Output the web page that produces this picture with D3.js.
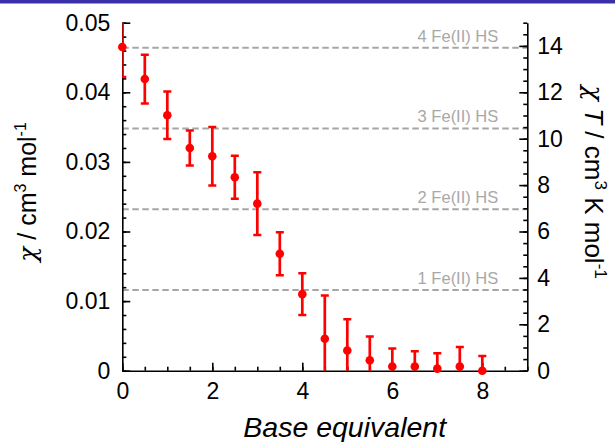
<!DOCTYPE html>
<html>
<head>
<meta charset="utf-8">
<script src="https://cdn.jsdelivr.net/npm/d3@7"></script>
<style>
  body { margin: 0; background: #fff; }
  svg { display: block; font-family: "Liberation Sans", Arial, Helvetica, sans-serif; }
</style>
</head>
<body>
<div id="chart"></div>
<script>
// base equivalents added
const baseEq = [0, 0.5, 1, 1.5, 2, 2.5, 3, 3.5, 4, 4.5, 5, 5.5, 6, 6.5, 7, 7.5, 8];
// chi / cm3 mol-1
const chi = [0.0465, 0.0419, 0.0367, 0.0320, 0.0308, 0.0278, 0.0240, 0.0168, 0.0110,
             0.0046, 0.0029, 0.0015, 0.0006, 0.0006, 0.0003, 0.0006, 0.0000];
const chiErr = [0.0043, 0.0035, 0.0034, 0.0025, 0.0042, 0.0031, 0.0045, 0.0031, 0.0030,
                0.0062, 0.0045, 0.0034, 0.0026, 0.0022, 0.0022, 0.0028, 0.0021];

// reference levels, chiT per high spin Fe(II)
const feCounts = [1, 2, 3, 4];
const chiTPerFe = 3.48;
const temperature = 300; // chiT = chi * T

const xTicks = [0, 2, 4, 6, 8];
const chiTicks = [0, 0.01, 0.02, 0.03, 0.04, 0.05];
const chiTicksLabels = ["0", "0.01", "0.02", "0.03", "0.04", "0.05"];
const chiTTicks = [0, 2, 4, 6, 8, 10, 12, 14];

const width = 615, height = 442;
const margin = { top: 22.7, right: 87.7, bottom: 71.3, left: 122.3 };
const w = width - margin.left - margin.right;
const h = height - margin.top - margin.bottom;

const svg = d3.select('#chart').append('svg')
    .attr('width', width)
    .attr('height', height);

// blue band at top of page
svg.append('rect')
    .attr('x', 0).attr('y', 0)
    .attr('width', width).attr('height', 3.5)
    .attr('fill', '#3a2fa6');

const g = svg.append('g')
    .attr('transform', `translate(${margin.left},${margin.top})`);

const x = d3.scaleLinear().domain([0, 9]).range([0, w]);
const y = d3.scaleLinear().domain([0, 0.05]).range([h, 0]);
const yT = d3.scaleLinear().domain([0, 0.05 * temperature]).range([h, 0]);

g.append('clipPath').attr('id', 'plot-clip')
    .append('rect').attr('width', w).attr('height', h);

// dashed reference lines
const levels = g.append('g').attr('class', 'levels');
levels.selectAll('line').data(feCounts)
    .join('line')
    .attr('x1', 0).attr('x2', w)
    .attr('y1', d => yT(d * chiTPerFe))
    .attr('y2', d => yT(d * chiTPerFe))
    .attr('stroke', '#a6a6a6')
    .attr('stroke-width', 2)
    .attr('stroke-dasharray', '6.5,3.5');
levels.selectAll('text').data(feCounts)
    .join('text')
    .attr('x', w - 29)
    .attr('y', d => yT(d * chiTPerFe) - 6)
    .attr('text-anchor', 'end')
    .attr('font-size', '16.5px')
    .attr('fill', '#a8a8a8')
    .text(d => d + ' Fe(II) HS');

// axes: minor ticks first, then majors with labels
const minorX = d3.range(0, 9.01, 0.5);
const minorChi = d3.range(0, 0.0501, 0.002);
const minorChiT = d3.range(0, 15.01, 0.5);

function styleAxis(sel) {
    sel.selectAll('path, line').attr('stroke', '#000').attr('stroke-width', 1.6);
    sel.selectAll('text').attr('fill', '#000').attr('font-size', '23px')
        .attr('font-family', '"Liberation Sans", Arial, Helvetica, sans-serif');
}

g.append('g').attr('transform', `translate(0,${h})`)
    .call(d3.axisBottom(x).tickValues(minorX).tickSize(-4).tickFormat(''))
    .call(s => s.select('.domain').remove()).call(styleAxis);
g.append('g').attr('transform', `translate(0,${h})`)
    .call(d3.axisBottom(x).tickValues(xTicks).tickSizeInner(-8).tickSizeOuter(0).tickPadding(12).tickFormat(d3.format('d')))
    .call(styleAxis);

g.append('g')
    .call(d3.axisLeft(y).tickValues(minorChi).tickSize(-4).tickFormat(''))
    .call(s => s.select('.domain').remove()).call(styleAxis);
g.append('g')
    .call(d3.axisLeft(y).tickValues(chiTicks).tickSizeInner(-8).tickSizeOuter(0).tickPadding(12)
        .tickFormat((d, i) => chiTicksLabels[i]))
    .call(styleAxis);

g.append('g').attr('transform', `translate(${w},0)`)
    .call(d3.axisRight(yT).tickValues(minorChiT).tickSize(-4).tickFormat(''))
    .call(s => s.select('.domain').remove()).call(styleAxis);
g.append('g').attr('transform', `translate(${w},0)`)
    .call(d3.axisRight(yT).tickValues(chiTTicks).tickSizeInner(-8).tickSizeOuter(0).tickPadding(10).tickFormat(d3.format('d')))
    .call(styleAxis);

// data with error bars
const pts = baseEq.map((b, i) => ({ b, v: chi[i], e: chiErr[i] }));
const marks = g.append('g').attr('clip-path', 'url(#plot-clip)');
const cap = 4;
marks.selectAll('line.err').data(pts)
    .join('line').attr('class', 'err')
    .attr('x1', d => x(d.b)).attr('x2', d => x(d.b))
    .attr('y1', d => y(d.v + d.e)).attr('y2', d => y(d.v - d.e))
    .attr('stroke', '#ff0000').attr('stroke-width', 2.7);
marks.selectAll('line.capTop').data(pts)
    .join('line').attr('class', 'capTop')
    .attr('x1', d => x(d.b) - cap).attr('x2', d => x(d.b) + cap)
    .attr('y1', d => y(d.v + d.e)).attr('y2', d => y(d.v + d.e))
    .attr('stroke', '#ff0000').attr('stroke-width', 2.5);
marks.selectAll('line.capBot').data(pts)
    .join('line').attr('class', 'capBot')
    .attr('x1', d => x(d.b) - cap).attr('x2', d => x(d.b) + cap)
    .attr('y1', d => y(d.v - d.e)).attr('y2', d => y(d.v - d.e))
    .attr('stroke', '#ff0000').attr('stroke-width', 2.5);
g.append('g').selectAll('circle').data(pts)
    .join('circle')
    .attr('cx', d => x(d.b)).attr('cy', d => y(d.v))
    .attr('r', 4.3)
    .attr('fill', '#ff0000');

// axis titles
svg.append('text')
    .attr('x', 344.7).attr('y', 436.7)
    .attr('text-anchor', 'middle')
    .attr('font-size', '28.5px')
    .attr('font-style', 'italic')
    .text('Base equivalent');

const greek = '"DejaVu Serif", "Liberation Serif", serif';

const leftTitle = svg.append('text')
    .attr('transform', 'translate(36,192) rotate(-90)')
    .attr('text-anchor', 'middle')
    .attr('font-size', '25px');
leftTitle.append('tspan').attr('font-family', greek).attr('font-style', 'italic').text('\u03c7');
leftTitle.append('tspan').text(' / cm');
leftTitle.append('tspan').attr('font-size', '16px').attr('dy', '-10').text('3');
leftTitle.append('tspan').attr('dy', '10').text(' mol');
leftTitle.append('tspan').attr('font-size', '16px').attr('dy', '-10').text('-1');

const rightTitle = svg.append('text')
    .attr('transform', 'translate(585,182) rotate(90)')
    .attr('text-anchor', 'middle')
    .attr('font-size', '26px');
rightTitle.append('tspan').attr('font-family', greek).attr('font-style', 'italic').text('\u03c7');
rightTitle.append('tspan').text(' ');
rightTitle.append('tspan').attr('font-style', 'italic').text('T');
rightTitle.append('tspan').text(' / cm');
rightTitle.append('tspan').attr('font-size', '17px').attr('dy', '-10').text('3');
rightTitle.append('tspan').attr('dy', '10').text(' K mol');
rightTitle.append('tspan').attr('font-size', '17px').attr('dy', '-10').text('-1');
</script>
</body>
</html>
